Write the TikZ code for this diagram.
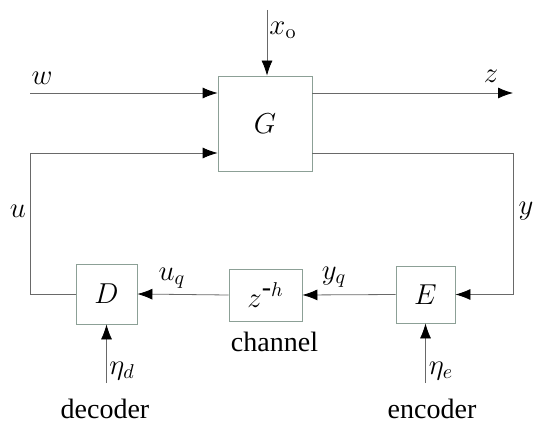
\documentclass[tikz,border=0pt]{standalone}
\usepackage[no-math]{fontspec}
\setmainfont{Liberation Serif}
\usetikzlibrary{positioning,arrows.meta}

\definecolor{boxline}{RGB}{140,160,150}
\definecolor{wire}{RGB}{105,105,105}
\tikzset{blk/.style={draw=boxline,inner sep=0pt},
  sig/.style={draw=wire,-{Latex[length=7.5pt,width=5.5pt,color=black]}}}

\begin{document}
\begin{tikzpicture}[x=0.5pt,y=-0.5pt,font=\fontsize{14}{16}\selectfont]
  \useasboundingbox (0,0) rectangle (539,427);

  % blocks
  \node[blk,minimum width=47pt,minimum height=47.5pt] (G) at (265,123.5) {$G$};
  \node[blk,minimum width=30.5pt,minimum height=30pt] (D) at (106.5,294) {$D$};
  \node[blk,minimum width=36.5pt,minimum height=26pt] (C) at (265.5,295) {$z^{\mbox{-}h}$};
  \node[blk,minimum width=29.5pt,minimum height=28.5pt] (E) at (425.5,294.5) {$E$};

  % free ends
  \coordinate (xo) at (267,10);
  \coordinate (win) at (30,93);
  \coordinate (zout) at (513,93);
  \coordinate (uleft) at (30,153);
  \coordinate (yright) at (513,153);
  \coordinate (etad) at (106.5,383);
  \coordinate (etae) at (425.5,383);

  % signals
  \draw[sig] (xo) -- (xo |- G.north);
  \draw[sig] (win) -- (win -| G.west);
  \draw[sig] (zout -| G.east) -- (zout);
  \draw[sig] (D.west) -| (uleft) -- (uleft -| G.west);
  \draw[sig] (yright -| G.east) -- (yright) |- (E.east);
  \draw[sig] (E.west) -- (C.east);
  \draw[sig] (C.west) -- (D.east);
  \draw[sig] (etad) -- (D.south);
  \draw[sig] (etae) -- (E.south);

  % labels
  \node (lxo) at (283,30) {$x_{\mathrm{o}}$};
  \node (lw) at (42,78) {$w$};
  \node (lz) at (491,76) {$z$};
  \node (lu) at (18,211) {$u$};
  \node (ly) at (526,211) {$y$};
  \node (luq) at (172,278) {$u_q$};
  \node (lyq) at (334,277) {$y_q$};
  \node (letad) at (122,371) {$\eta_d$};
  \node (letae) at (441,371) {$\eta_e$};
  \node[below=2pt of C,xshift=4.5pt] (lchan) {channel};
  \node (ldec) at (105,409) {decoder};
  \node (lenc) at (432,409) {encoder};
\end{tikzpicture}
\end{document}
